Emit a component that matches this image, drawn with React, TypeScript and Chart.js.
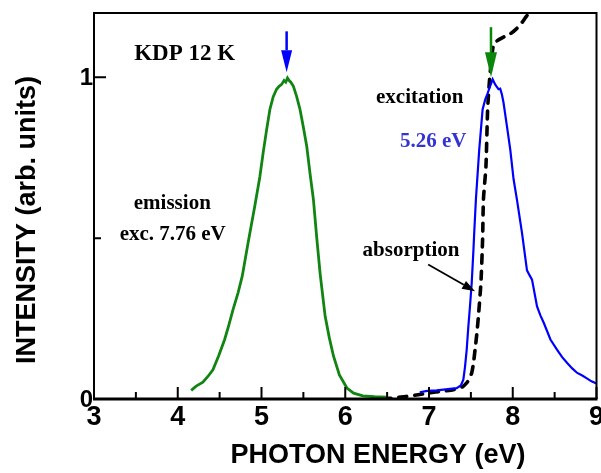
import React, { useEffect, useRef } from "react";
import { Chart, registerables } from "chart.js";

Chart.register(...registerables);

// ---- data (photon energy in eV, intensity in arb. units) ----
const emissionEnergy = [4.16, 4.22, 4.3, 4.36, 4.42, 4.49, 4.56, 4.61, 4.66, 4.72, 4.77, 4.84, 4.92, 4.98, 5.02, 5.06, 5.1, 5.14, 5.18, 5.21, 5.24, 5.27, 5.29, 5.31, 5.33, 5.35, 5.38, 5.42, 5.46, 5.5, 5.54, 5.58, 5.62, 5.66, 5.7, 5.76, 5.81, 5.86, 5.93, 6.02, 6.1, 6.21, 6.35, 6.49];
const emissionIntensity = [0.027, 0.04, 0.052, 0.07, 0.091, 0.135, 0.185, 0.23, 0.278, 0.33, 0.382, 0.486, 0.6, 0.69, 0.766, 0.835, 0.9, 0.94, 0.963, 0.972, 0.978, 0.99, 0.985, 0.998, 0.99, 0.985, 0.973, 0.94, 0.9, 0.845, 0.786, 0.7, 0.62, 0.5, 0.39, 0.257, 0.19, 0.133, 0.075, 0.034, 0.018, 0.01, 0.007, 0.006];

const excitationEnergy = [6.89, 6.98, 7.09, 7.2, 7.33, 7.38, 7.41, 7.43, 7.45, 7.47, 7.49, 7.51, 7.53, 7.54, 7.56, 7.6, 7.64, 7.67, 7.7, 7.73, 7.76, 7.79, 7.81, 7.83, 7.85, 7.87, 7.89, 7.93, 7.97, 8.01, 8.05, 8.11, 8.17, 8.2, 8.23, 8.29, 8.33, 8.37, 8.45, 8.53, 8.59, 8.65, 8.71, 8.77, 8.83, 8.88, 8.94, 9.0];
const excitationIntensity = [0.021, 0.025, 0.027, 0.03, 0.034, 0.042, 0.06, 0.1, 0.153, 0.226, 0.29, 0.361, 0.46, 0.517, 0.62, 0.776, 0.9, 0.93, 0.95, 0.973, 0.994, 0.978, 0.97, 0.963, 0.965, 0.947, 0.921, 0.849, 0.776, 0.683, 0.62, 0.517, 0.4, 0.385, 0.371, 0.288, 0.26, 0.237, 0.185, 0.153, 0.13, 0.112, 0.095, 0.081, 0.073, 0.065, 0.055, 0.048];

const absorptionEnergy = [6.45, 6.6, 6.73, 6.87, 7.01, 7.15, 7.29, 7.4, 7.45, 7.48, 7.51, 7.53, 7.55, 7.57, 7.59, 7.62, 7.64, 7.65, 7.68, 7.7, 7.72, 7.75, 7.77, 7.81, 7.89, 7.97, 8.04, 8.11, 8.15, 8.19, 8.25];
const absorptionIntensity = [0.0, 0.004, 0.008, 0.013, 0.019, 0.024, 0.029, 0.038, 0.05, 0.062, 0.081, 0.11, 0.153, 0.2, 0.257, 0.361, 0.496, 0.62, 0.724, 0.9, 0.983, 1.066, 1.1, 1.113, 1.125, 1.135, 1.15, 1.17, 1.185, 1.2, 1.24];

const xTickLabels = [3, 4, 5, 6, 7, 8, 9];
const xMinorTicks = [3.5, 4.5, 5.5, 6.5, 7.5, 8.5];
const yTickLabels = [0, 1];
const yMinorTicks = [0.5];

const xTitle = "PHOTON ENERGY (eV)";
const yTitle = "INTENSITY (arb. units)";

const SANS = '"Liberation Sans", Arial, sans-serif';
const SERIF = '"Liberation Serif", "Times New Roman", serif';

const toPoints = (xs: number[], ys: number[]) => xs.map((x, i) => ({ x, y: ys[i] }));

const overlayPlugin = {
  id: "overlay",
  afterDraw(chart: any) {
    const ctx: CanvasRenderingContext2D = chart.ctx;
    const xs = chart.scales.x;
    const ys = chart.scales.y;
    const { left, right, top, bottom } = chart.chartArea;
    const px = (v: number) => xs.getPixelForValue(v);
    const py = (v: number) => ys.getPixelForValue(v);

    ctx.save();
    // frame
    ctx.strokeStyle = "#000";
    ctx.lineWidth = 2;
    ctx.beginPath();
    ctx.moveTo(left, bottom);
    ctx.lineTo(left, top);
    ctx.lineTo(right, top);
    ctx.lineTo(right, bottom);
    ctx.stroke();
    ctx.lineWidth = 3;
    ctx.beginPath();
    ctx.moveTo(left - 1, bottom);
    ctx.lineTo(right + 1, bottom);
    ctx.stroke();

    // ticks (inward)
    ctx.lineWidth = 2;
    ctx.beginPath();
    xTickLabels.forEach((v) => {
      const x = px(v);
      ctx.moveTo(x, bottom);
      ctx.lineTo(x, bottom - 12);
    });
    xMinorTicks.forEach((v) => {
      const x = px(v);
      ctx.moveTo(x, bottom);
      ctx.lineTo(x, bottom - 7);
    });
    yTickLabels.forEach((v) => {
      const y = py(v);
      ctx.moveTo(left, y);
      ctx.lineTo(left + 12, y);
    });
    yMinorTicks.forEach((v) => {
      const y = py(v);
      ctx.moveTo(left, y);
      ctx.lineTo(left + 7, y);
    });
    ctx.stroke();

    // tick labels
    ctx.fillStyle = "#000";
    ctx.font = `bold 27px ${SANS}`;
    ctx.textAlign = "center";
    ctx.textBaseline = "top";
    xTickLabels.forEach((v) => ctx.fillText(String(v), px(v), bottom + 5));
    ctx.font = `bold 24px ${SANS}`;
    ctx.textAlign = "right";
    ctx.textBaseline = "middle";
    yTickLabels.forEach((v) => ctx.fillText(String(v), left - 1, py(v) + 1));

    // axis titles
    ctx.font = `bold 27px ${SANS}`;
    ctx.textAlign = "center";
    ctx.textBaseline = "alphabetic";
    ctx.fillText(xTitle, 378, 463);
    ctx.save();
    ctx.translate(35, 220);
    ctx.rotate(-Math.PI / 2);
    ctx.fillText(yTitle, 0, 0);
    ctx.restore();

    // annotations
    const text = (s: string, x: number, y: number, size: number, color: string, align: CanvasTextAlign) => {
      ctx.font = `bold ${size}px ${SERIF}`;
      ctx.fillStyle = color;
      ctx.textAlign = align;
      ctx.textBaseline = "alphabetic";
      ctx.fillText(s, px(x), py(y));
    };
    text("KDP 12 K", 3.48, 1.053, 23, "#000", "left");
    text("excitation", 6.89, 0.919, 21, "#000", "center");
    text("5.26 eV", 7.05, 0.783, 21, "#3434d4", "center");
    text("emission", 3.935, 0.592, 21, "#000", "center");
    text("exc. 7.76 eV", 3.94, 0.493, 21, "#000", "center");
    text("absorption", 6.785, 0.446, 21, "#000", "center");

    // arrows
    const arrow = (x1: number, y1: number, x2: number, y2: number, color: string, lw: number, headLen: number, headW: number) => {
      const ax = px(x1), ay = py(y1), bx = px(x2), by = py(y2);
      const ang = Math.atan2(by - ay, bx - ax);
      const hx = bx - headLen * Math.cos(ang);
      const hy = by - headLen * Math.sin(ang);
      ctx.strokeStyle = color;
      ctx.fillStyle = color;
      ctx.lineWidth = lw;
      ctx.beginPath();
      ctx.moveTo(ax, ay);
      ctx.lineTo(hx, hy);
      ctx.stroke();
      const nx = -Math.sin(ang) * headW / 2;
      const ny = Math.cos(ang) * headW / 2;
      ctx.beginPath();
      ctx.moveTo(bx, by);
      ctx.lineTo(hx + nx, hy + ny);
      ctx.lineTo(hx - nx, hy - ny);
      ctx.closePath();
      ctx.fill();
    };
    arrow(5.3, 1.143, 5.3, 1.016, "#0000ff", 2.5, 22, 11);
    arrow(7.74, 1.156, 7.74, 1.0, "#0a860a", 2.5, 25, 12);
    arrow(6.99, 0.418, 7.55, 0.335, "#000", 1.8, 13, 9);

    ctx.restore();
  },
};

export default function App() {
  const canvasRef = useRef<HTMLCanvasElement | null>(null);

  useEffect(() => {
    const canvas = canvasRef.current;
    if (!canvas) return;
    const chart = new Chart(canvas, {
      type: "line",
      data: {
        datasets: [
          {
            label: "emission",
            data: toPoints(emissionEnergy, emissionIntensity),
            borderColor: "#118511",
            borderWidth: 2.8,
            pointRadius: 0,
            tension: 0,
            fill: false,
          },
          {
            label: "excitation",
            data: toPoints(excitationEnergy, excitationIntensity),
            borderColor: "#0000ff",
            borderWidth: 2.2,
            pointRadius: 0,
            tension: 0,
            fill: false,
          },
          {
            label: "absorption",
            data: toPoints(absorptionEnergy, absorptionIntensity),
            borderColor: "#000000",
            borderWidth: 3.6,
            borderDash: [8, 8],
            borderCapStyle: "round",
            pointRadius: 0,
            tension: 0.2,
            fill: false,
          },
        ],
      },
      options: {
        responsive: false,
        animation: false,
        devicePixelRatio: 1,
        layout: { padding: { left: 94, right: 4.5, top: 13, bottom: 74 } },
        plugins: {
          legend: { display: false },
          tooltip: { enabled: false },
        },
        scales: {
          x: { type: "linear", min: 3, max: 9, display: false },
          y: { type: "linear", min: 0, max: 1.2, display: false },
        },
      },
      plugins: [overlayPlugin],
    });
    return () => chart.destroy();
  }, []);

  return (
    <div style={{ position: "fixed", left: 0, top: 0, width: 601, height: 473, background: "#fff" }}>
      <canvas ref={canvasRef} width={601} height={473} style={{ width: 601, height: 473, display: "block" }} />
    </div>
  );
}
